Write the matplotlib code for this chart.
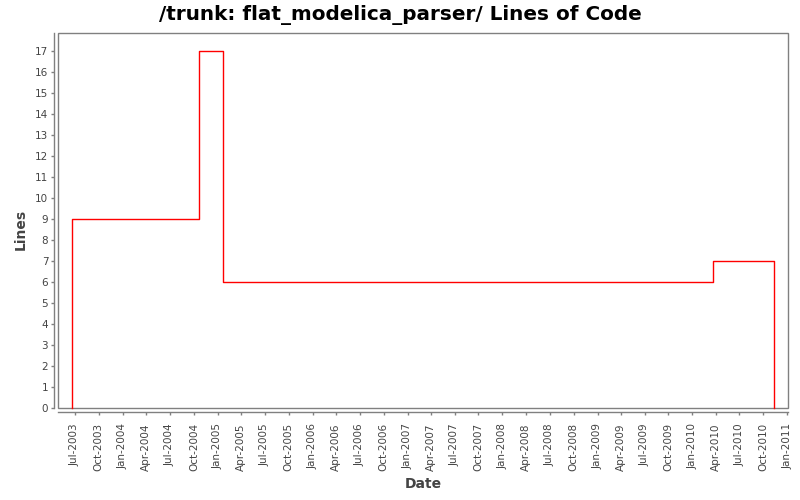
import matplotlib
matplotlib.use('Agg')
import matplotlib.pyplot as plt
import matplotlib.dates as mdates
from matplotlib.patches import Rectangle
import datetime as dt

# Lines of code over time (step chart)
dates = ['2003-06-19', '2003-06-19', '2004-10-19', '2005-01-20', '2010-03-23', '2010-11-10']
lines = [0, 9, 17, 6, 7, 0]

x_start = '2003-04-27'
x_end = '2011-01-04'
y_max = 17.86

x = [dt.datetime.strptime(d, '%Y-%m-%d') for d in dates]

fig = plt.figure(figsize=(8, 5), dpi=100, facecolor='white')
ax = fig.add_axes([58/800, 1-408/500, 730/800, 375/500])

ax.plot(x, lines, color='#ff0000', linewidth=1.0, drawstyle='steps-post',
        clip_on=False)

ax.set_xlim(dt.datetime.strptime(x_start, '%Y-%m-%d'),
            dt.datetime.strptime(x_end, '%Y-%m-%d'))
ax.set_ylim(0, y_max)

ax.xaxis.set_major_locator(mdates.MonthLocator(bymonth=[1, 4, 7, 10]))
ax.xaxis.set_major_formatter(mdates.DateFormatter('%b-%Y'))
ax.set_yticks(range(0, 18))

gray = '#808080'
for s in ['top', 'right']:
    ax.spines[s].set_visible(False)
for s in ['left', 'bottom']:
    ax.spines[s].set_position(('outward', 3))
    ax.spines[s].set_color(gray)
    ax.spines[s].set_linewidth(1.0)

# plot border
ax.add_patch(Rectangle((0, 0), 1, 1, transform=ax.transAxes, fill=False,
                       edgecolor=gray, linewidth=1.0, clip_on=False))

ax.tick_params(axis='both', colors=gray, length=2, width=1, labelsize=7.5,
               labelcolor='#444444', pad=2)
ax.tick_params(axis='x', labelrotation=90, pad=6)

ax.set_xlabel('Date', fontsize=10, fontweight='bold', color='#444444')
ax.set_ylabel('Lines', fontsize=10, fontweight='bold', color='#444444')
ax.xaxis.set_label_coords(0.5, -0.185)
ax.yaxis.set_label_coords(-0.042, 0.475)

fig.suptitle('/trunk: flat_modelica_parser/ Lines of Code', fontsize=14.4,
             fontweight='bold', family='DejaVu Sans', x=0.5, y=0.99)

fig.savefig('out.png', dpi=100)
